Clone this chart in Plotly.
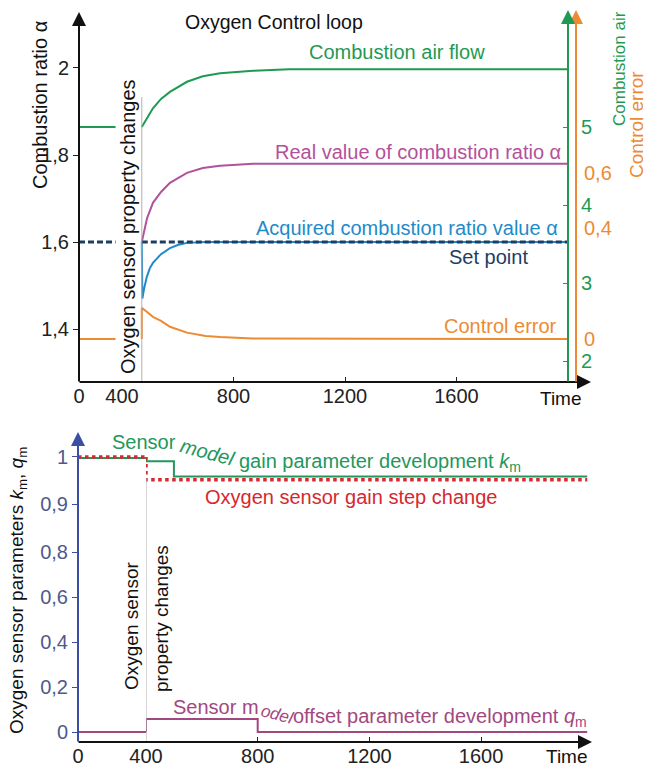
import plotly.graph_objects as go

W, H = 646, 769
def px(x): return x / W
def py(y): return 1 - y / H

FONT = "Liberation Sans, Arial, sans-serif"
GREEN = '#1f9a52'
MAGENTA = '#b3519c'
BLUE = '#1e8bc9'
NAVY = '#1c3e62'
ORANGE = '#ec8b32'
RED = '#d6282e'
PURPLE = '#a24881'
BGREEN = '#23975c'
AXBLUE = '#3a4ea3'
TBLUE = '#4d5a8c'

# ---------------- data: top chart ----------------
t_pre = [0, 340]
air_pre = [5.0, 5.0]
setpoint_pre = [1.6, 1.6]
error_pre = [0.0, 0.0]

t_air = [471, 490, 511, 540, 572, 633, 690, 752, 870, 1000, 2000]
air_flow = [5.00, 5.12, 5.24, 5.36, 5.45, 5.58, 5.65, 5.69, 5.72, 5.74, 5.74]

t_real = [471, 480, 490, 511, 540, 572, 633, 690, 752, 870, 1000, 2000]
alpha_real = [1.60, 1.63, 1.655, 1.69, 1.715, 1.736, 1.759, 1.77, 1.775, 1.78, 1.78, 1.78]

t_acq = [471, 473, 480, 489, 500, 511, 540, 572, 600, 633, 700, 2000]
alpha_acq = [1.60, 1.47, 1.495, 1.52, 1.54, 1.552, 1.572, 1.586, 1.593, 1.598, 1.60, 1.60]

t_set = [471, 2000]
setpoint = [1.6, 1.6]

t_err = [471, 471, 490, 511, 540, 572, 633, 700, 752, 870, 2000]
ctrl_error = [0.0, 0.112, 0.097, 0.080, 0.065, 0.044, 0.023, 0.011, 0.007, 0.002, 0.0]

t_change_top = 471

# ---------------- data: bottom chart ----------------
tb_pre = [0, 400]
km_pre = [0.998, 0.998]
gain_pre = [1.0, 1.0]
qm_pre = [0.0, 0.0]

t_km = [400, 400, 500, 500, 1980]
km = [0.998, 0.991, 0.991, 0.959, 0.959]

t_gain = [400, 400, 1980]
gain_step = [1.0, 0.952, 0.952]

t_qm = [400, 400, 800, 800, 1980]
qm = [0.0, 0.058, 0.058, 0.0, 0.0]

t_change_bottom = 400

# tick labels
top_y_ticks = [1.4, 1.6, 1.8, 2.0]
top_y_text = ['1,4', '1,6', '1,8', '2']
air_ticks = [2, 3, 4, 5]
err_ticks = [0, 0.4, 0.6]
err_text = ['0', '0,4', '0,6']
low_ticks = [0, 0.2, 0.4, 0.6, 0.8]
low_text = ['0', '0,2', '0,4', '0,6', '0,8']
up_ticks = [0.9, 1.0]
up_text = ['0,9', '1']

fig = go.Figure()

def line(x, y, xa, ya, color, width=2, dash=None):
    fig.add_trace(go.Scatter(x=x, y=y, xaxis=xa, yaxis=ya, mode='lines',
                             line=dict(color=color, width=width, dash=dash),
                             hoverinfo='skip', showlegend=False))

# top chart traces
line(t_pre, air_pre, 'x', 'y2', GREEN)
line(t_air, air_flow, 'x2', 'y2', GREEN)
line(t_real, alpha_real, 'x2', 'y', MAGENTA)
line(t_acq, alpha_acq, 'x2', 'y', BLUE)
line(t_pre, setpoint_pre, 'x', 'y', NAVY, 3, '6px,3px')
line(t_set, setpoint, 'x2', 'y', NAVY, 3, '6px,3px')
line(t_pre, error_pre, 'x', 'y3', ORANGE)
line(t_err, ctrl_error, 'x2', 'y3', ORANGE)

# bottom chart traces
line(tb_pre, km_pre, 'x3', 'y5', BGREEN)
line(t_km, km, 'x4', 'y5', BGREEN)
line(tb_pre, gain_pre, 'x3', 'y5', RED, 3.5, 'dot')
line(t_gain, gain_step, 'x4', 'y5', RED, 3.5, 'dot')
line(tb_pre, qm_pre, 'x3', 'y4', PURPLE)
line(t_qm, qm, 'x4', 'y4', PURPLE)

tickfont = dict(family=FONT, size=20, color='#222')
common_x = dict(showgrid=False, zeroline=False, showline=False, ticks='inside',
                ticklen=5, tickcolor='#222', tickfont=tickfont, automargin=False)
common_y = dict(showgrid=False, zeroline=False, automargin=False)

fig.update_layout(
    width=W, height=H, margin=dict(l=0, r=0, t=0, b=0, autoexpand=False),
    paper_bgcolor='white', plot_bgcolor='rgba(0,0,0,0)',
    font=dict(family=FONT, size=20, color='#222'),
    xaxis=dict(domain=[px(79), px(122)], range=[0, 400], anchor='y',
               tickvals=[0, 400], **common_x),
    xaxis2=dict(domain=[px(122), px(568)], range=[400, 2000], anchor='y',
                tickvals=[800, 1200, 1600], **common_x),
    yaxis=dict(domain=[py(382), py(15)], range=[1.2782, 2.1218], anchor='x',
               tickvals=top_y_ticks, ticktext=top_y_text, ticks='outside', ticklen=5,
               tickcolor='#222', tickfont=tickfont, showline=False, **common_y),
    yaxis2=dict(overlaying='y', side='right', anchor='free', position=px(568),
                range=[1.731, 6.436], tickvals=air_ticks, ticks='inside', ticklen=5,
                tickcolor=GREEN, tickfont=dict(family=FONT, size=20, color=GREEN),
                ticklabelstandoff=12, showline=False, **common_y),
    yaxis3=dict(overlaying='y', side='right', anchor='free', position=px(575),
                range=[-0.155, 1.1676], tickvals=err_ticks, ticktext=err_text,
                ticks='', tickfont=dict(family=FONT, size=20, color=ORANGE),
                ticklabelstandoff=8, showline=False, **common_y),
    xaxis3=dict(domain=[px(78), px(146)], range=[0, 400], anchor='y4',
                tickvals=[0], **common_x),
    xaxis4=dict(domain=[px(146), px(590)], range=[400, 1990], anchor='y4',
                tickvals=[400, 800, 1200, 1600], **common_x),
    yaxis4=dict(domain=[py(742), py(552)], range=[-0.0444, 0.8], anchor='x3',
                tickvals=low_ticks, ticktext=low_text, ticks='outside', ticklen=5,
                tickcolor=AXBLUE, tickfont=dict(family=FONT, size=20, color=TBLUE),
                showline=False, **common_y),
    yaxis5=dict(domain=[py(552), py(437)], range=[0.8, 1.042], anchor='x3',
                tickvals=up_ticks, ticktext=up_text, ticks='outside', ticklen=5,
                tickcolor=AXBLUE, tickfont=dict(family=FONT, size=20, color=TBLUE),
                showline=False, **common_y),
)

# event markers
fig.add_shape(type='line', xref='x2', yref='y', x0=t_change_top, x1=t_change_top,
              y0=1.2782, y1=1.933, line=dict(color='#b0b0b0', width=1))
fig.add_shape(type='line', xref='x4', yref='paper', x0=t_change_bottom, x1=t_change_bottom,
              y0=py(742), y1=py(478), line=dict(color='#b0b0b0', width=1))

# axis arrows
def arrow(x_tip, y_tip, x_tail, y_tail, color, width=2):
    fig.add_annotation(x=px(x_tip), y=py(y_tip), xref='paper', yref='paper',
                       ax=x_tail - x_tip, ay=y_tail - y_tip, text='', showarrow=True,
                       arrowhead=2, arrowsize=1.4, arrowwidth=width, arrowcolor=color,
                       standoff=0, startstandoff=0)

arrow(79, 12, 79, 383, '#111')
arrow(591, 382, 78, 382, '#111')
arrow(576, 10, 576, 383, ORANGE)
arrow(568, 10, 568, 383, GREEN)
arrow(78, 432, 78, 743, AXBLUE)
arrow(592, 742, 77, 742, '#111')

def text(x, y, s, color='#222', size=20, anchor='center', angle=0, align='center'):
    fig.add_annotation(x=px(x), y=py(y), xref='paper', yref='paper', text=s,
                       showarrow=False, xanchor=anchor, yanchor='middle',
                       textangle=angle, align=align,
                       font=dict(family=FONT, size=size, color=color))

# top texts
text(274, 22, 'Oxygen Control loop', '#111', 19.5)
text(307, 52, 'Combustion air flow', GREEN, 20, 'left')
text(273, 152, 'Real value of combustion ratio α', MAGENTA, 20, 'left')
text(254, 228, 'Acquired combustion ratio value α', BLUE, 20, 'left')
text(447, 257, 'Set point', NAVY, 20, 'left')
text(442, 326, 'Control error', ORANGE, 20, 'left')
text(128, 227, 'Oxygen sensor property changes', '#111', 20, angle=-90)
text(40, 105, 'Combustion ratio α', '#111', 20, angle=-90)
text(619, 69, 'Combustion air', GREEN, 17, angle=-90)
text(636, 125, 'Control error', ORANGE, 19, angle=-90)
text(561, 399, 'Time', '#111', 19)

# bottom texts
text(110, 442, 'Sensor', BGREEN, 20, 'left')
text(207, 452, '<i>model</i>', BGREEN, 20, angle=15)
text(237, 462, 'gain parameter development <i>k</i><sub>m</sub>', BGREEN, 20, 'left')
text(203, 497, 'Oxygen sensor gain step change', RED, 20, 'left')
text(171, 707, 'Sensor m', PURPLE, 20, 'left')
text(277, 714, '<i>odel</i>', PURPLE, 17, angle=15)
text(291, 717, 'offset parameter development <i>q</i><sub>m</sub>', PURPLE, 20, 'left')
text(131, 626, 'Oxygen sensor', '#111', 19, angle=-90)
text(161, 619, 'property changes', '#111', 19, angle=-90)
text(18, 591, 'Oxygen sensor parameters <i>k</i><sub>m</sub>, <i>q</i><sub>m</sub>', '#111', 19, angle=-90)
text(567, 756, 'Time', '#111', 19)

fig.write_html('out.html')
